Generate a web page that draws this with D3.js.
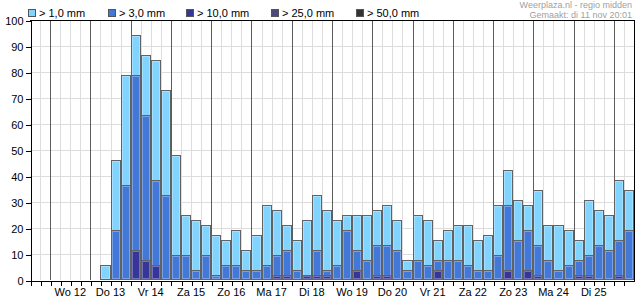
<!DOCTYPE html>
<html>
<head>
<meta charset="utf-8">
<script src="https://cdn.jsdelivr.net/npm/d3@7/dist/d3.min.js"></script>
<style>
  html, body { margin: 0; padding: 0; background: #fff; }
  svg { display: block; font-family: "Liberation Sans", Arial, sans-serif; }
</style>
</head>
<body>
<div id="chart"></div>
<script>
(function () {
  const W = 635, H = 300;

  // ── Data ──────────────────────────────────────────────────────────────────
  // 6-hourly slots, slot 0 = di 11 12:00; first bar at slot 7
  const FIRST_SLOT = 7;
  const SLOT_COUNT = 60;

  const DAY_LABELS = ['Wo 12', 'Do 13', 'Vr 14', 'Za 15', 'Zo 16', 'Ma 17', 'Di 18',
                      'Wo 19', 'Do 20', 'Vr 21', 'Za 22', 'Zo 23', 'Ma 24', 'Di 25'];

  const Y_TICKS = [0, 10, 20, 30, 40, 50, 60, 70, 80, 90, 100];

  // chance (%) per slot, from slot 7 to 59
  const P1 = [5.8, 46.2, 78.8, 94.2, 86.5, 84.6, 73.1, 48.1, 25, 23.1, 21.2, 17.3, 15.4, 19.2,
              11.5, 17.3, 28.8, 26.9, 21.2, 15.4, 23.1, 32.7, 26.9, 23.1, 25, 25, 25, 26.9,
              28.8, 23.1, 7.7, 25, 23.1, 15.4, 19.2, 21.2, 21.2, 15.4, 17.3, 28.8, 42.3, 30.8,
              28.8, 34.6, 21.2, 21.2, 19.2, 15.4, 30.8, 26.9, 25, 38.5, 34.6];
  const P3 = [0, 19.2, 36.5, 78.8, 63.5, 38.5, 32.7, 9.6, 9.6, 3.8, 9.6, 1.9, 5.8, 5.8,
              3.8, 3.8, 5.8, 9.6, 11.5, 3.8, 1.9, 11.5, 3.8, 5.8, 19.2, 11.5, 7.7, 13.5,
              13.5, 11.5, 3.8, 7.7, 5.8, 7.7, 7.7, 7.7, 5.8, 3.8, 3.8, 9.6, 28.8, 15.4,
              19.2, 13.5, 7.7, 3.8, 5.8, 7.7, 9.6, 13.5, 11.5, 15.4, 19.2];
  const P10 = [0, 0, 0, 11.5, 7.7, 5.8, 0, 0, 0, 0, 0, 0, 0, 0,
               0, 0, 0, 1.9, 1.9, 0, 1.9, 1.9, 1.9, 0, 0, 3.8, 0, 1.9,
               1.9, 0, 0, 0, 0, 3.8, 0, 0, 0, 0, 0, 0, 3.8, 0,
               3.8, 1.9, 0, 0, 0, 1.9, 1.9, 0, 0, 1.9, 0];
  const P25 = [0, 0, 0, 0, 0, 0, 0, 0, 0, 0, 0, 0, 0, 0,
               0, 0, 0, 0, 0, 0, 0, 0, 0, 0, 0, 0, 0, 0,
               0, 0, 0, 0, 0, 0, 0, 0, 0, 0, 0, 0, 0, 0,
               0, 0, 0, 0, 0, 0, 0, 0, 0, 0, 0];
  const P50 = [0, 0, 0, 0, 0, 0, 0, 0, 0, 0, 0, 0, 0, 0,
               0, 0, 0, 0, 0, 0, 0, 0, 0, 0, 0, 0, 0, 0,
               0, 0, 0, 0, 0, 0, 0, 0, 0, 0, 0, 0, 0, 0,
               0, 0, 0, 0, 0, 0, 0, 0, 0, 0, 0];

  const SERIES_LABELS = ['> 1,0 mm', '> 3,0 mm', '> 10,0 mm', '> 25,0 mm', '> 50,0 mm'];
  const SERIES_VALUES = [P1, P3, P10, P25, P50];
  const SERIES_COLORS = ['#80d4ff', '#4279d8', '#35359a', '#4b4b7d', '#333333'];

  // ── Layout ────────────────────────────────────────────────────────────────
  const LEFT = 30, RIGHT = 634, TOP = 20, BOTTOM = 280;

  const x = d3.scaleLinear().domain([0, SLOT_COUNT]).range([LEFT, RIGHT]);
  const y = d3.scaleLinear().domain([0, 100]).range([BOTTOM, TOP]);
  const px = function (i) { return Math.round(x(i)); };

  const svg = d3.select('#chart').append('svg')
    .attr('width', W).attr('height', H)
    .attr('viewBox', [0, 0, W, H]);

  // ── Grid ──────────────────────────────────────────────────────────────────
  const grid = svg.append('g').attr('shape-rendering', 'crispEdges');

  grid.selectAll('line.h')
    .data(Y_TICKS.filter(function (t) { return t > 0 && t < 100; }))
    .join('line')
    .attr('x1', LEFT).attr('x2', RIGHT)
    .attr('y1', function (d) { return Math.round(y(d)) + 0.5; })
    .attr('y2', function (d) { return Math.round(y(d)) + 0.5; })
    .attr('stroke', '#dddddd');

  // day boundaries fall on slot 2, 6, 10, ...
  const slots = d3.range(1, SLOT_COUNT);
  grid.selectAll('line.v')
    .data(slots)
    .join('line')
    .attr('x1', function (d) { return px(d) + 0.5; })
    .attr('x2', function (d) { return px(d) + 0.5; })
    .attr('y1', TOP).attr('y2', BOTTOM)
    .attr('stroke', function (d) { return (d - 2) % 4 === 0 ? '#5c5c5c' : '#dddddd'; });

  // ── Bars (overlapping, biggest threshold drawn first) ─────────────────────
  const bars = svg.append('g').attr('shape-rendering', 'crispEdges');

  SERIES_VALUES.forEach(function (values, s) {
    const pts = values
      .map(function (v, i) { return { slot: FIRST_SLOT + i, v: v }; })
      .filter(function (d) { return d.v > 0; });

    const g = bars.append('g');
    const top = function (d) { return Math.round(y(d.v)); };

    g.selectAll('rect.bar')
      .data(pts)
      .join('rect')
      .attr('class', 'bar')
      .attr('x', function (d) { return px(d.slot) + 0.5; })
      .attr('width', function (d) { return px(d.slot + 1) - px(d.slot) - 1; })
      .attr('y', function (d) { return top(d) + 0.5; })
      .attr('height', function (d) { return BOTTOM - top(d) - 1; })
      .attr('fill', SERIES_COLORS[s])
      .attr('stroke', '#626262');

    g.selectAll('rect.hi')
      .data(pts.filter(function (d) { return BOTTOM - top(d) > 4; }))
      .join('rect')
      .attr('class', 'hi')
      .attr('x', function (d) { return px(d.slot) + 1.5; })
      .attr('width', function (d) { return px(d.slot + 1) - px(d.slot) - 3; })
      .attr('y', function (d) { return top(d) + 1.5; })
      .attr('height', function (d) { return BOTTOM - top(d) - 3; })
      .attr('fill', 'none')
      .attr('stroke', 'rgba(255,255,255,0.3)');
  });

  // ── Frame + axes ──────────────────────────────────────────────────────────
  const frame = svg.append('g').attr('shape-rendering', 'crispEdges').attr('stroke', '#000');
  frame.append('line').attr('x1', LEFT).attr('x2', RIGHT + 1).attr('y1', TOP + 0.5).attr('y2', TOP + 0.5);
  frame.append('line').attr('x1', RIGHT + 0.5).attr('x2', RIGHT + 0.5).attr('y1', TOP).attr('y2', BOTTOM + 1);

  const yAxis = svg.append('g')
    .attr('transform', 'translate(' + (LEFT + 0.5) + ',0.5)')
    .attr('shape-rendering', 'crispEdges')
    .call(d3.axisLeft(y).tickValues(Y_TICKS).tickSize(5).tickSizeOuter(0).tickPadding(2));
  yAxis.selectAll('text').attr('font-size', 11).attr('fill', '#000').attr('font-family', null).attr('dy', '0.35em');
  yAxis.selectAll('line, path').attr('stroke', '#000');

  const xAxis = svg.append('g')
    .attr('transform', 'translate(0.5,' + (BOTTOM + 0.5) + ')')
    .attr('shape-rendering', 'crispEdges')
    .call(d3.axisBottom(x).tickValues(d3.range(0, SLOT_COUNT + 1)).tickSize(5)
      .tickSizeOuter(0).tickFormat(''));
  xAxis.selectAll('line, path').attr('stroke', '#000');

  svg.append('g').selectAll('text')
    .data(DAY_LABELS)
    .join('text')
    .attr('x', function (d, i) { return x(2 + i * 4 + 2); })
    .attr('y', 296)
    .attr('text-anchor', 'middle')
    .attr('font-size', 11)
    .attr('fill', '#000')
    .text(function (d) { return d; });

  // ── Legend ────────────────────────────────────────────────────────────────
  const LEGEND_X = [28, 108, 186, 271, 356];
  const legend = svg.append('g').selectAll('g')
    .data(SERIES_LABELS)
    .join('g')
    .attr('transform', function (d, i) { return 'translate(' + LEGEND_X[i] + ',0)'; });

  legend.append('rect')
    .attr('x', 0.5).attr('y', 9.5).attr('width', 7).attr('height', 7)
    .attr('shape-rendering', 'crispEdges')
    .attr('fill', function (d, i) { return SERIES_COLORS[i]; })
    .attr('stroke', '#555');

  legend.append('text')
    .attr('x', 11).attr('y', 17)
    .attr('font-size', 11)
    .attr('fill', '#000')
    .text(function (d) { return d; });

  // ── Credits ───────────────────────────────────────────────────────────────
  svg.append('text')
    .attr('x', 632).attr('y', 8)
    .attr('text-anchor', 'end').attr('font-size', 9).attr('fill', '#a0a0a0')
    .text('Weerplaza.nl - regio midden');
  svg.append('text')
    .attr('x', 632).attr('y', 18)
    .attr('text-anchor', 'end').attr('font-size', 9).attr('fill', '#a0a0a0')
    .text('Gemaakt: di 11 nov 20:01');
})();
</script>
</body>
</html>
